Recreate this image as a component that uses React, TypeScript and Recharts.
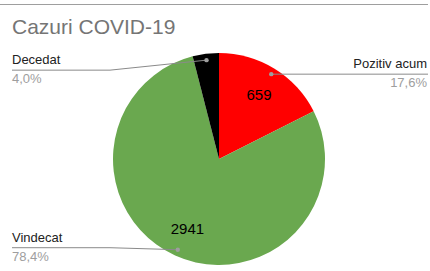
import { Pie, PieChart, Cell } from "recharts";

const categorii = ["Pozitiv acum", "Vindecat", "Decedat"];
const cazuri = [659, 2941, 150];
const culori = ["#ff0000", "#6aa84f", "#000000"];

const date = categorii.map((nume, i) => ({ nume, valoare: cazuri[i] }));

const RADIAN = Math.PI / 180;
const FONT = "'Liberation Sans', Arial, sans-serif";

// asezare etichete exterioare (stanga / dreapta, linia de ghidare)
const etichete = [
  { parte: "dreapta", liniaY: 0 },
  { parte: "stanga", liniaY: -2 },
  { parte: "stanga", liniaY: 10 },
];

function EtichetaFelie(props: any) {
  const { cx, cy, midAngle, outerRadius, percent, index, value } = props;
  const cos = Math.cos(-midAngle * RADIAN);
  const sin = Math.sin(-midAngle * RADIAN);
  const rIn = outerRadius * 0.72;
  const xi = cx + rIn * cos;
  const yi = cy + rIn * sin;
  const xp = cx + outerRadius * 0.94 * cos;
  const yp = cy + outerRadius * 0.94 * sin;
  const cfg = etichete[index];
  const ly = yp + cfg.liniaY;
  const procent = (percent * 100).toFixed(1).replace(".", ",") + "%";
  const stanga = cfg.parte === "stanga";
  const xText = stanga ? 12 : 427;
  const xCot = stanga ? 110 : xp;
  return (
    <g>
      {index !== 2 && (
        <text x={xi} y={yi} fill="#000" fontSize={15} fontFamily={FONT} textAnchor="middle" dominantBaseline="central">
          {value}
        </text>
      )}
      <polyline
        points={stanga ? `${xText},${ly} ${xCot},${ly} ${xp},${yp}` : `${xp},${yp} ${xText + 1},${ly}`}
        fill="none"
        stroke="#8a8a8a"
        strokeWidth={1}
      />
      <circle cx={xp} cy={yp} r={2.2} fill="#9e9e9e" />
      <text x={xText} y={ly - 6} fill="#222" fontSize={13} fontFamily={FONT} textAnchor={stanga ? "start" : "end"}>
        {categorii[index]}
      </text>
      <text x={xText} y={ly + 13} fill="#9e9e9e" fontSize={13} fontFamily={FONT} textAnchor={stanga ? "start" : "end"}>
        {procent}
      </text>
    </g>
  );
}

export default function App() {
  return (
    <div style={{ position: "absolute", left: 0, top: 0, width: 430, height: 271, background: "#fff" }}>
      <div style={{ position: "absolute", left: 0, top: 4, width: 428, height: 1, background: "#9e9e9e" }} />
      <div
        style={{
          position: "absolute",
          left: 12,
          top: 15,
          fontFamily: FONT,
          fontSize: 21,
          color: "#757575",
          lineHeight: "24px",
        }}
      >
        Cazuri COVID-19
      </div>
      <PieChart
        width={430}
        height={271}
        margin={{ top: 0, right: 0, bottom: 0, left: 0 }}
        style={{ position: "absolute", left: 0, top: 0 }}
      >
        <Pie
          data={date}
          dataKey="valoare"
          nameKey="nume"
          cx={219}
          cy={159}
          outerRadius={106}
          startAngle={90}
          endAngle={-270}
          stroke="none"
          label={EtichetaFelie}
          labelLine={false}
          isAnimationActive={false}
        >
          {date.map((d, i) => (
            <Cell key={d.nume} fill={culori[i]} />
          ))}
        </Pie>
      </PieChart>
    </div>
  );
}
